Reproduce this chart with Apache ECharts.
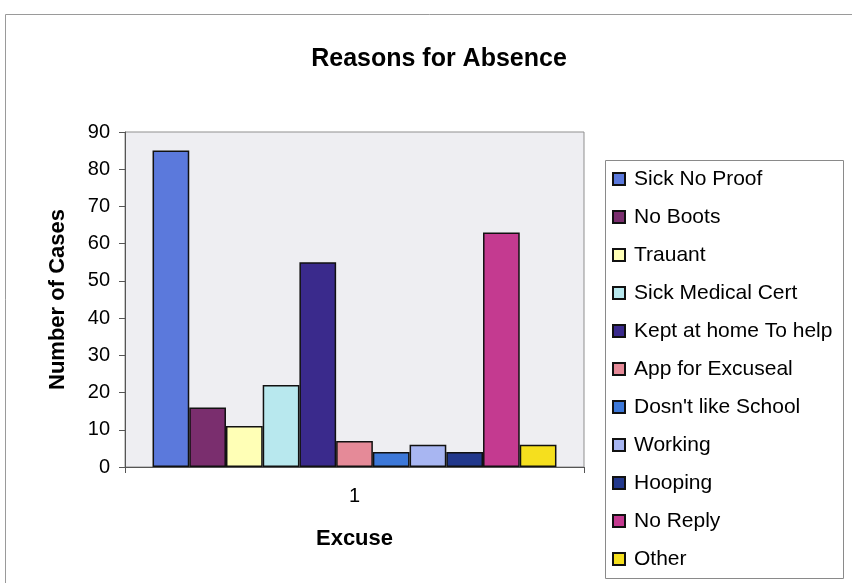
<!DOCTYPE html>
<html>
<head>
<meta charset="utf-8">
<title>Reasons for Absence</title>
<script src="https://cdn.jsdelivr.net/npm/echarts@6/dist/echarts.min.js"></script>
<style>
  html, body { margin: 0; padding: 0; background: #ffffff; }
  #chart { width: 852px; height: 583px; }
</style>
</head>
<body>
<div id="chart"></div>
<script>
// Absence reasons, one bar per excuse, all in a single category group
const categories = ['1'];
const reasons = [
  'Sick No Proof', 'No Boots', 'Trauant', 'Sick Medical Cert',
  'Kept at home To help', 'App for Excuseal', "Dosn't like School",
  'Working', 'Hooping', 'No Reply', 'Other'
];
const cases = [85, 16, 11, 22, 55, 7, 4, 6, 4, 63, 6];
const colors = [
  '#5b79dc', '#7a2e6e', '#ffffb6', '#b8e8ee', '#3a2a8c', '#e58a98',
  '#3d78d8', '#a8b6f2', '#22388c', '#c43a90', '#f5df1e'
];
const yTicks = { min: 0, max: 90, interval: 10 };

const FONT = '"Liberation Sans", Arial, sans-serif';
const grid = { left: 125, top: 132, width: 459, height: 335 };

const series = reasons.map((name, i) => ({
  name: name,
  type: 'bar',
  data: [cases[i]],
  barGap: '0%',
  barCategoryGap: '12%',
  itemStyle: { color: colors[i], borderColor: '#111111', borderWidth: 1.5 },
  emphasis: { disabled: true }
}));

const chart = echarts.init(document.getElementById('chart'), null, { renderer: 'canvas' });
chart.setOption({
  animation: false,
  backgroundColor: '#ffffff',
  title: {
    text: 'Reasons for Absence',
    left: 434, top: 42, textAlign: 'center',
    textStyle: { fontFamily: FONT, fontSize: 25, fontWeight: 'bold', color: '#000000' }
  },
  graphic: [
    // outer chart frame
    { type: 'rect', shape: { x: 5.5, y: 14.5, width: 860, height: 600 },
      style: { fill: 'none', stroke: '#9a9a9a', lineWidth: 1 }, silent: true },
    // legend box
    { type: 'rect', shape: { x: 605.5, y: 160.5, width: 238, height: 418 },
      style: { fill: '#ffffff', stroke: '#8a8a8a', lineWidth: 1 }, silent: true, z: 0 }
  ],
  legend: {
    orient: 'vertical',
    left: 607, top: 162,
    itemWidth: 12, itemHeight: 12, itemGap: 14,
    icon: 'rect',
    data: reasons,
    selectedMode: false,
    textStyle: { fontFamily: FONT, fontSize: 21, color: '#000000', padding: [0, 0, 0, 4], lineHeight: 24 },
    z: 5
  },
  grid: Object.assign({ backgroundColor: '#eeeef2', show: true, borderColor: '#8f8f8f', borderWidth: 1 }, grid),
  xAxis: {
    type: 'category',
    data: categories,
    name: 'Excuse',
    nameLocation: 'middle',
    nameGap: 61,
    nameTextStyle: { fontFamily: FONT, fontSize: 22, fontWeight: 'bold', color: '#000000' },
    axisLine: { lineStyle: { color: '#555555', width: 1 } },
    axisTick: { show: true, length: 6, lineStyle: { color: '#555555' } },
    axisLabel: { fontFamily: FONT, fontSize: 20, color: '#000000', margin: 19 }
  },
  yAxis: {
    type: 'value',
    min: yTicks.min, max: yTicks.max, interval: yTicks.interval,
    name: 'Number of Cases',
    nameLocation: 'middle',
    nameGap: 56,
    nameTextStyle: { fontFamily: FONT, fontSize: 22, fontWeight: 'bold', color: '#000000' },
    axisLine: { show: true, lineStyle: { color: '#555555', width: 1 } },
    axisTick: { show: true, length: 6, lineStyle: { color: '#555555' } },
    axisLabel: { fontFamily: FONT, fontSize: 20, color: '#000000', margin: 15 },
    splitLine: { show: false }
  },
  series: series
});
</script>
</body>
</html>
